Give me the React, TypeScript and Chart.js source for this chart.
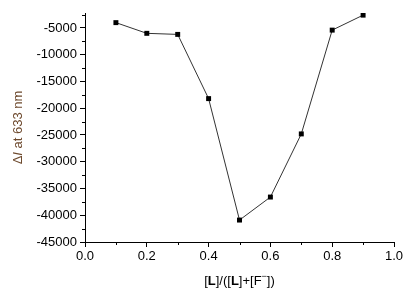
import React, { useEffect, useRef } from "react";
import { Chart, registerables } from "chart.js";

Chart.register(...registerables);

const xValues = [0.1, 0.2, 0.3, 0.4, 0.5, 0.6, 0.7, 0.8, 0.9];
const yValues = [-4000, -6000, -6200, -18200, -40900, -36600, -24800, -5400, -2600];
const xTicks = [0, 0.2, 0.4, 0.6, 0.8, 1.0];
const yTicks = [-45000, -40000, -35000, -30000, -25000, -20000, -15000, -10000, -5000];
const xMinorTicks = [0.1, 0.3, 0.5, 0.7, 0.9];
const yMinorTicks = [-42500, -37500, -32500, -27500, -22500, -17500, -12500, -7500, -2500];

type Seg = { t: string; style?: string; weight?: string; sup?: boolean };
const xTitle: Seg[] = [
  { t: "[" },
  { t: "L", weight: "bold" },
  { t: "]/([" },
  { t: "L", weight: "bold" },
  { t: "]+[F" },
  { t: "\u2212", sup: true },
  { t: "])" },
];
const yTitle: Seg[] = [{ t: "\u0394" }, { t: "I", style: "italic" }, { t: " at 633 nm" }];

const FONT = "Arial, 'Liberation Sans', sans-serif";
const FS = 13;

function segFont(s: Seg) {
  const size = s.sup ? 9 : FS;
  return `${s.style || "normal"} ${s.weight || "normal"} ${size}px ${FONT}`;
}

function drawSegs(ctx: CanvasRenderingContext2D, segs: Seg[], cx: number, cy: number, color: string, rot: number) {
  ctx.save();
  ctx.translate(cx, cy);
  ctx.rotate(rot);
  ctx.fillStyle = color;
  ctx.textBaseline = "middle";
  ctx.textAlign = "left";
  let total = 0;
  for (const s of segs) {
    ctx.font = segFont(s);
    total += ctx.measureText(s.t).width;
  }
  let x = -total / 2;
  for (const s of segs) {
    ctx.font = segFont(s);
    ctx.fillText(s.t, x, s.sup ? -4 : 0);
    x += ctx.measureText(s.t).width;
  }
  ctx.restore();
}

const extrasPlugin = {
  id: "extras",
  afterDraw(chart: any) {
    const ctx = chart.ctx as CanvasRenderingContext2D;
    const xs = chart.scales.x;
    const ys = chart.scales.y;
    ctx.save();
    ctx.strokeStyle = "#000";
    ctx.lineWidth = 1;
    ctx.beginPath();
    for (const v of xMinorTicks) {
      const px = Math.round(xs.getPixelForValue(v)) + 0.5;
      ctx.moveTo(px, xs.top);
      ctx.lineTo(px, xs.top + 3);
    }
    for (const v of yMinorTicks) {
      const py = Math.round(ys.getPixelForValue(v)) + 0.5;
      ctx.moveTo(ys.right, py);
      ctx.lineTo(ys.right - 3, py);
    }
    ctx.stroke();
    ctx.restore();
    const ca = chart.chartArea;
    drawSegs(ctx, xTitle, (ca.left + ca.right) / 2, 281, "#000", 0);
    drawSegs(ctx, yTitle, 18, (ca.top + ca.bottom) / 2, "#6e4a2e", -Math.PI / 2);
  },
};

export default function App() {
  const ref = useRef<HTMLCanvasElement>(null);
  useEffect(() => {
    document.body.style.margin = "0";
    const chart = new Chart(ref.current!, {
      type: "line",
      data: {
        datasets: [
          {
            data: xValues.map((x, i) => ({ x, y: yValues[i] })),
            borderColor: "#333",
            borderWidth: 1,
            pointStyle: "rect",
            pointRadius: 3.5,
            pointBackgroundColor: "#000",
            pointBorderColor: "#000",
            pointBorderWidth: 0,
            tension: 0,
          },
        ],
      },
      options: {
        animation: false,
        responsive: false,
        devicePixelRatio: 1,
        layout: { padding: { left: 0, right: 22, top: 13, bottom: 0 } },
        plugins: { legend: { display: false }, tooltip: { enabled: false } },
        scales: {
          x: {
            type: "linear",
            min: 0,
            max: 1,
            afterBuildTicks: (s: any) => {
              s.ticks = xTicks.map((v) => ({ value: v }));
            },
            afterFit: (s: any) => {
              s.height = 54;
            },
            ticks: {
              color: "#000",
              font: { family: FONT, size: FS },
              padding: 2,
              maxRotation: 0,
              callback: (v: any) => Number(v).toFixed(1),
            },
            grid: { drawOnChartArea: false, drawTicks: true, tickLength: 5, color: "#000" },
            border: { display: true, color: "#000", width: 1 },
          },
          y: {
            type: "linear",
            min: -45000,
            max: -2200,
            afterBuildTicks: (s: any) => {
              s.ticks = yTicks.map((v) => ({ value: v }));
            },
            afterFit: (s: any) => {
              s.width = 85;
            },
            ticks: {
              color: "#000",
              font: { family: FONT, size: FS },
              padding: 3,
              callback: (v: any) => String(v),
            },
            grid: { drawOnChartArea: false, drawTicks: true, tickLength: 5, color: "#000" },
            border: { display: true, color: "#000", width: 1 },
          },
        },
      },
      plugins: [extrasPlugin],
    } as any);
    return () => chart.destroy();
  }, []);
  return (
    <div style={{ width: 416, height: 296, background: "#fff" }}>
      <canvas ref={ref} width={416} height={296} style={{ display: "block" }} />
    </div>
  );
}
